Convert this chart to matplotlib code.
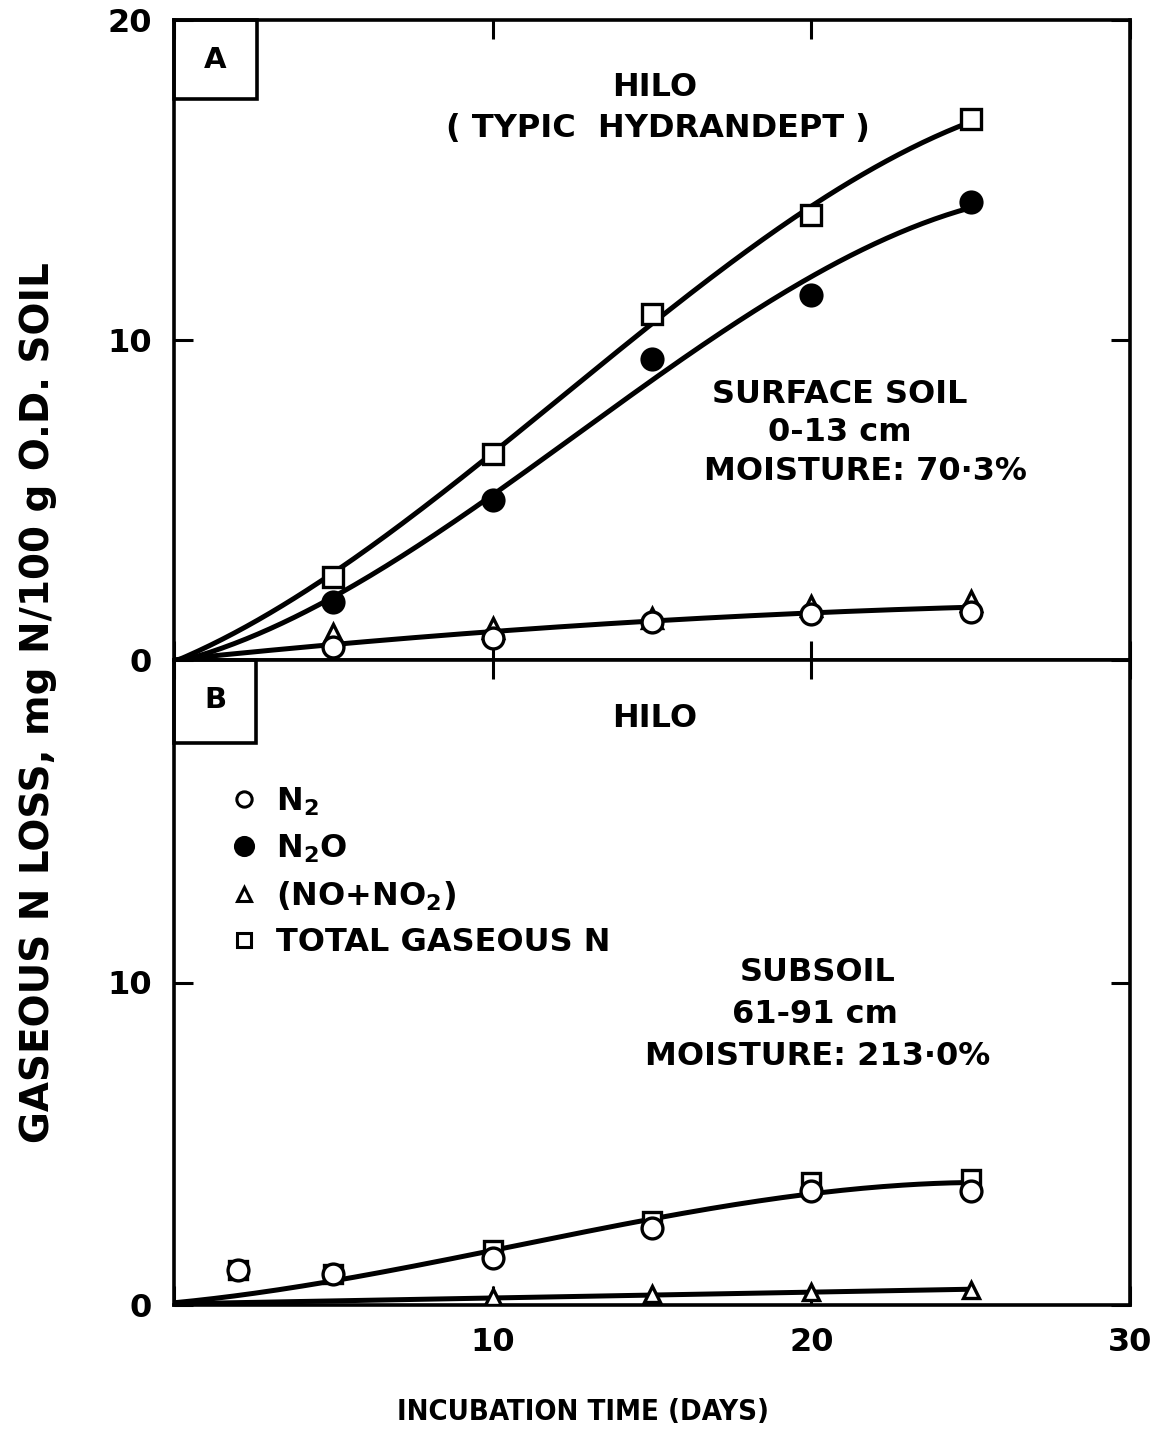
import matplotlib
matplotlib.use("Agg")
import matplotlib.pyplot as plt
import numpy as np
from matplotlib.lines import Line2D
from matplotlib.patches import Rectangle

plt.rcParams["font.family"] = ["DejaVu Sans"]
plt.rcParams["mathtext.default"] = "regular"
plt.rcParams["font.weight"] = "bold"

# incubation days
days = [5, 10, 15, 20, 25]

# panel A: surface soil 0-13 cm
a_n2 = [0.4, 0.7, 1.2, 1.45, 1.5]
a_n2o = [1.8, 5.0, 9.4, 11.4, 14.3]
a_no = [0.8, 1.0, 1.3, 1.7, 1.85]
a_total = [2.6, 6.45, 10.8, 13.9, 16.9]

# panel B: subsoil 61-91 cm
b_days = [2, 5, 10, 15, 20, 25]
b_n2 = [1.1, 0.95, 1.45, 2.4, 3.55, 3.55]
b_total = [1.1, 0.95, 1.7, 2.6, 3.8, 3.9]
b_no_days = [10, 15, 20, 25]
b_no = [0.25, 0.35, 0.4, 0.45]

LW = 3.6
FS = 23
W, H = 1167, 1451
fig = plt.figure(figsize=(W / 100, H / 100), dpi=100)

x0, x1 = 174 / W, 1130 / W
ax_a = fig.add_axes([x0, 1 - 660 / H, x1 - x0, 640 / H])
ax_b = fig.add_axes([x0, 1 - 1305 / H, x1 - x0, 645 / H])


def fitted(x, y, deg):
    # smooth curve through the origin and the measured points
    xs = np.r_[0, x]
    ys = np.r_[0, y]
    c = np.polyfit(xs, ys, deg)
    xx = np.linspace(0, max(x), 200)
    return xx, np.polyval(c, xx)


def style(ax):
    ax.set_xlim(0, 30)
    ax.set_ylim(0, 20)
    for s in ax.spines.values():
        s.set_linewidth(2.6)
    ax.tick_params(direction="in", length=14, width=2.2, top=True, right=True,
                   labelsize=23, pad=16)
    ax.set_xticks([0, 10, 20, 30])


mk = dict(markersize=15, markeredgewidth=2.4, linestyle="none", color="black")

# ---- panel A ----
style(ax_a)
for y, deg in [(a_total, 3), (a_n2o, 3)]:
    xx, yy = fitted(days, y, deg)
    ax_a.plot(xx, yy, color="black", lw=LW, zorder=2)
xx, yy = fitted(days, [(2 * p + q) / 3 for p, q in zip(a_n2, a_no)], 2)
ax_a.plot(xx, yy, color="black", lw=LW, zorder=2)
ax_a.plot(days, a_no, marker="^", markerfacecolor="white", zorder=3, **mk)
ax_a.plot(days, a_n2, marker="o", markerfacecolor="white", zorder=4, **mk)
ax_a.plot(days, a_n2o, marker="o", markerfacecolor="black", zorder=4, **mk)
ax_a.plot(days, a_total, marker="s", markerfacecolor="white", zorder=4,
          **{**mk, "markersize": 14})
ax_a.set_yticks([0, 10, 20], ["0", "10", "20"])
ax_a.set_xticklabels([])

ax_a.add_patch(Rectangle((0, 1 - 79 / 640), 83 / 956, 79 / 640, transform=ax_a.transAxes,
                         fill=False, lw=2.6, clip_on=False, zorder=5))
ax_a.text(41 / 956, 1 - 40 / 640, "A", transform=ax_a.transAxes, ha="center", va="center",
          fontsize=21)
ax_a.text(15.1, 17.9, "HILO", ha="center", va="center", fontsize=FS)
ax_a.text(15.2, 16.6, "( TYPIC  HYDRANDEPT )", ha="center", va="center", fontsize=FS)
ax_a.text(20.9, 8.3, "SURFACE SOIL", ha="center", va="center", fontsize=FS)
ax_a.text(20.9, 7.1, "0-13 cm", ha="center", va="center", fontsize=FS)
ax_a.text(21.7, 5.9, "MOISTURE: 70\u00b73%", ha="center", va="center", fontsize=FS)

# ---- panel B ----
style(ax_b)
xx, yy = fitted(days, [(p + q) / 2 for p, q in zip(b_n2[1:], b_total[1:])], 3)
ax_b.plot(xx, yy, color="black", lw=LW, zorder=2)
xx, yy = fitted(b_no_days, b_no, 1)
ax_b.plot(xx, yy, color="black", lw=LW, zorder=2)
ax_b.plot(b_no_days, b_no, marker="^", markerfacecolor="white", zorder=3,
          **{**mk, "markersize": 11})
ax_b.plot(b_days, b_total, marker="s", markerfacecolor="white", zorder=3,
          **{**mk, "markersize": 13})
ax_b.plot(b_days, b_n2, marker="o", markerfacecolor="white", zorder=4, **mk)
ax_b.set_yticks([0, 10, 20], ["0", "10", ""])
ax_b.set_xticklabels(["", "10", "20", "30"])

ax_b.add_patch(Rectangle((0, 1 - 83 / 645), 82 / 956, 83 / 645, transform=ax_b.transAxes,
                         fill=False, lw=2.6, clip_on=False, zorder=5))
ax_b.text(41 / 956, 1 - 40 / 645, "B", transform=ax_b.transAxes, ha="center", va="center",
          fontsize=21)
ax_b.text(15.1, 18.2, "HILO", ha="center", va="center", fontsize=FS)
ax_b.text(20.2, 10.3, "SUBSOIL", ha="center", va="center", fontsize=FS)
ax_b.text(20.1, 9.0, "61-91 cm", ha="center", va="center", fontsize=FS)
ax_b.text(20.2, 7.7, "MOISTURE: 213\u00b70%", ha="center", va="center", fontsize=FS)

handles = [
    Line2D([], [], marker="o", ls="none", color="black", mfc="white", ms=11, mew=2.2),
    Line2D([], [], marker="o", ls="none", color="black", mfc="black", ms=13, mew=2.2),
    Line2D([], [], marker="^", ls="none", color="black", mfc="white", ms=10, mew=2.2),
    Line2D([], [], marker="s", ls="none", color="black", mfc="white", ms=10, mew=2.2),
]
labels = ["N$_2$", "N$_2$O", "(NO+NO$_2$)", "TOTAL GASEOUS N"]
ax_b.legend(handles, labels, loc="upper left", bbox_to_anchor=(0.045, 0.825),
            frameon=False, fontsize=FS, handlelength=0.9, handletextpad=0.55,
            labelspacing=0.45, borderaxespad=0)

fig.text(583 / W, 1 - 1412 / H, "INCUBATION TIME (DAYS)", ha="center", va="center",
         fontsize=21, fontweight="bold", fontstretch="condensed")
fig.text(38 / W, 1 - 703 / H, "GASEOUS N LOSS, mg N/100 g O.D. SOIL", rotation=90,
         ha="center", va="center", fontsize=28)

fig.savefig("out.png", dpi=100)
